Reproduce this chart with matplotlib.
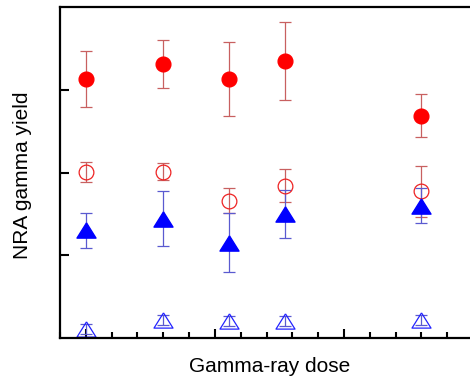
import numpy as np
import matplotlib
matplotlib.use('Agg')
import matplotlib.pyplot as plt
from matplotlib.ticker import MultipleLocator, FixedLocator

plt.rcParams['font.family'] = ['Liberation Sans', 'DejaVu Sans']

dose = [1.0, 4.0, 6.55, 8.72, 14.0]

red_filled = [3.13, 3.31, 3.13, 3.35, 2.69]
red_filled_err = [0.34, 0.29, 0.45, 0.47, 0.26]

red_open = [2.01, 2.01, 1.66, 1.84, 1.77]
red_open_err = [0.12, 0.10, 0.15, 0.20, 0.31]

blue_filled = [1.30, 1.44, 1.15, 1.50, 1.60]
blue_filled_err = [0.21, 0.33, 0.36, 0.29, 0.21]

blue_open = [0.10, 0.21, 0.20, 0.20, 0.21]
blue_open_err = [0.06, 0.06, 0.06, 0.06, 0.06]

# wider, flatter triangle than the default '^'
tri = [(0, 0.8), (-1, -0.8), (1, -0.8), (0, 0.8)]

fig = plt.figure(figsize=(4.7, 3.78), dpi=100)
ax = fig.add_axes([60 / 470, 1 - 337.7 / 378, 413 / 470, 330.4 / 378])

ebkw = dict(linestyle='none', elinewidth=0.9, capsize=4.3, capthick=0.9)

ax.errorbar(dose, red_filled, yerr=red_filled_err, marker='o', ms=10.6,
            mfc='#ff0000', mec='#ff0000', ecolor='#c86060', **ebkw)
ax.errorbar(dose, red_open, yerr=red_open_err, marker='o', ms=10.6,
            mfc='none', mec='#ee2222', mew=0.9, ecolor='#c86060', **ebkw)
ax.errorbar(dose, blue_filled, yerr=blue_filled_err, marker=tri, ms=13.7,
            mfc='#0000ff', mec='#0000ff', ecolor='#5a5ad0', **ebkw)
ax.errorbar(dose, blue_open, yerr=blue_open_err, marker=tri, ms=13.7,
            mfc='none', mec='#2222ff', mew=0.9, ecolor='#5a5ad0', **ebkw)

ax.set_xlim(0, 16)
ax.set_ylim(0, 4)

ax.xaxis.set_major_locator(FixedLocator([1, 6, 11, 16]))
ax.xaxis.set_minor_locator(MultipleLocator(1))
ax.yaxis.set_major_locator(FixedLocator([1, 2, 3]))
ax.tick_params(axis='both', which='both', direction='in', labelbottom=False,
               labelleft=False, top=False, right=False)
ax.tick_params(which='major', length=6.5, width=1.5)
ax.tick_params(which='minor', length=4.2, width=1.5)

for s in ax.spines.values():
    s.set_linewidth(1.6)

fig.text(270 / 470, 1 - 366 / 378, 'Gamma-ray dose', fontsize=15,
         ha='center', va='center')
fig.text(23 / 470, 1 - 175 / 378, 'NRA gamma yield', fontsize=15,
         ha='center', va='center', rotation=90)

fig.savefig('out.png', dpi=100)
